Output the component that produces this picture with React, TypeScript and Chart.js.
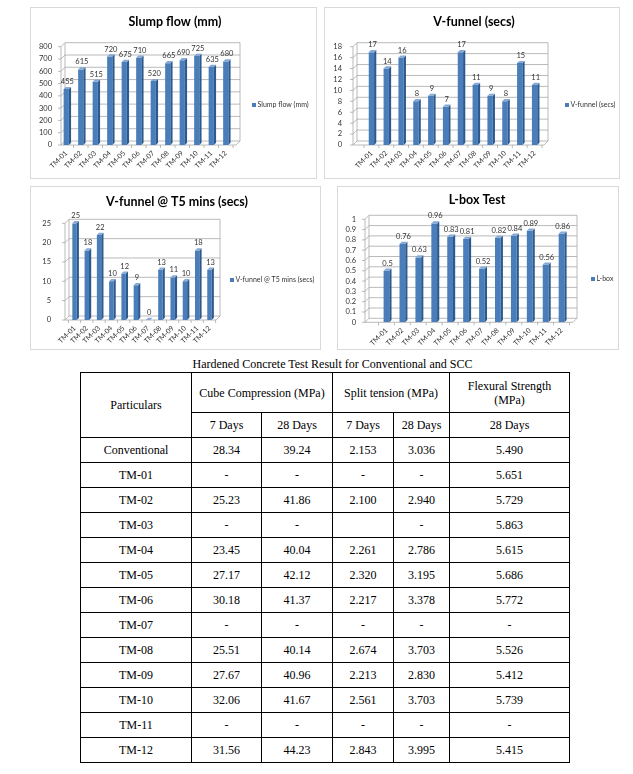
import React, { useEffect, useRef } from "react";
import { Chart, registerables } from "chart.js";

Chart.register(...registerables);

// ---------------- data ----------------
const categories = ["TM-01", "TM-02", "TM-03", "TM-04", "TM-05", "TM-06", "TM-07", "TM-08", "TM-09", "TM-10", "TM-11", "TM-12"];
const slumpFlow = [455, 615, 515, 720, 675, 710, 520, 665, 690, 725, 635, 680];
const vFunnel = [17, 14, 16, 8, 9, 7, 17, 11, 9, 8, 15, 11];
const vFunnelT5 = [25, 18, 22, 10, 12, 9, 0, 13, 11, 10, 18, 13];
const lBox = [0.5, 0.76, 0.63, 0.96, 0.83, 0.81, 0.52, 0.82, 0.84, 0.89, 0.56, 0.86];

const slumpTicks = [0, 100, 200, 300, 400, 500, 600, 700, 800];
const vFunnelTicks = [0, 2, 4, 6, 8, 10, 12, 14, 16, 18];
const t5Ticks = [0, 5, 10, 15, 20, 25];
const lBoxTicks = [0, 0.1, 0.2, 0.3, 0.4, 0.5, 0.6, 0.7, 0.8, 0.9, 1];

const tableTitle = "Hardened Concrete Test Result for Conventional and SCC";
const particulars = ["Conventional", "TM-01", "TM-02", "TM-03", "TM-04", "TM-05", "TM-06", "TM-07", "TM-08", "TM-09", "TM-10", "TM-11", "TM-12"];
const cube7 = ["28.34", "-", "25.23", "-", "23.45", "27.17", "30.18", "-", "25.51", "27.67", "32.06", "-", "31.56"];
const cube28 = ["39.24", "-", "41.86", "-", "40.04", "42.12", "41.37", "-", "40.14", "40.96", "41.67", "-", "44.23"];
const split7 = ["2.153", "-", "2.100", "", "2.261", "2.320", "2.217", "-", "2.674", "2.213", "2.561", "-", "2.843"];
const split28 = ["3.036", "-", "2.940", "-", "2.786", "3.195", "3.378", "-", "3.703", "2.830", "3.703", "-", "3.995"];
const flex28 = ["5.490", "5.651", "5.729", "5.863", "5.615", "5.686", "5.772", "-", "5.526", "5.412", "5.739", "-", "5.415"];

// ---------------- layout ----------------
type Panel = {
  title: string;
  legend: string;
  values: number[];
  ticks: number[];
  box: { x: number; y: number; w: number; h: number };
  area: { l: number; r: number; t: number; b: number };
  wallX: number;
  floorR: number;
  labelRight: number;
  titlePos: { x: number; y: number };
  legendPos: { x: number; y: number };
};

const panels: Panel[] = [
  {
    title: "Slump flow (mm)", legend: "Slump flow (mm)", values: slumpFlow, ticks: slumpTicks,
    box: { x: 30, y: 7, w: 287, h: 172 }, area: { l: 59, r: 233, t: 46.7, b: 145 },
    wallX: 61, floorR: 236, labelRight: 52, titlePos: { x: 175, y: 21.5 }, legendPos: { x: 252, y: 105 },
  },
  {
    title: "V-funnel (secs)", legend: "V-funnel (secs)", values: vFunnel, ticks: vFunnelTicks,
    box: { x: 324, y: 7, w: 296, h: 172 }, area: { l: 364, r: 542, t: 46.7, b: 145 },
    wallX: 353, floorR: 544, labelRight: 342, titlePos: { x: 474, y: 22 }, legendPos: { x: 565, y: 105 },
  },
  {
    title: "V-funnel @ T5 mins (secs)", legend: "V-funnel @ T5 mins (secs)", values: vFunnelT5, ticks: t5Ticks,
    box: { x: 30, y: 186, w: 291, h: 164 }, area: { l: 68.4, r: 215.6, t: 223.3, b: 320 },
    wallX: 65, floorR: 216, labelRight: 51, titlePos: { x: 177, y: 202 }, legendPos: { x: 230, y: 280 },
  },
  {
    title: "L-box Test", legend: "L-box", values: lBox, ticks: lBoxTicks,
    box: { x: 337, y: 186, w: 282, h: 164 }, area: { l: 378.5, r: 569.5, t: 219.3, b: 322.3 },
    wallX: 365, floorR: 573, labelRight: 356, titlePos: { x: 477, y: 200 }, legendPos: { x: 591, y: 279 },
  },
];

const FONT = "Lato, 'Open Sans', sans-serif";
const BAR_FRONT = "#4a7ebb";
const BAR_SIDE = "#2d5a8e";
const BAR_TOP = "#86a9d6";
const TEXT = "#333333";

function makeDecor(p: Panel) {
  const ox = p.box.x;
  const oy = p.box.y;
  return {
    id: "excel3d",
    beforeDatasetsDraw(chart: any) {
      const ctx = chart.ctx as CanvasRenderingContext2D;
      const ys = chart.scales.y;
      const area = chart.chartArea;
      const xL = p.wallX - ox;
      const xR = p.floorR - ox;
      const dx = 4;
      const dy = 4;
      const bottom = area.bottom;
      const top = ys.getPixelForValue(p.ticks[p.ticks.length - 1]);
      ctx.save();
      ctx.strokeStyle = "#a8a8a8";
      ctx.lineWidth = 0.8;
      ys.ticks.forEach((t: any) => {
        const py = ys.getPixelForValue(t.value);
        ctx.beginPath();
        ctx.moveTo(xL - 3, py);
        ctx.lineTo(xL, py);
        ctx.lineTo(xL + dx, py - dy);
        ctx.lineTo(xR + dx, py - dy);
        ctx.stroke();
      });
      ctx.beginPath();
      ctx.moveTo(xL, top);
      ctx.lineTo(xL, bottom);
      ctx.moveTo(xL + dx, top - dy);
      ctx.lineTo(xL + dx, bottom - dy);
      ctx.moveTo(xR + dx, top - dy);
      ctx.lineTo(xR + dx, bottom - dy);
      ctx.moveTo(xL, bottom);
      ctx.lineTo(xR, bottom);
      ctx.lineTo(xR + dx, bottom - dy);
      ctx.stroke();
      const xs = chart.scales.x;
      const n = categories.length;
      const step = (area.right - area.left) / n;
      for (let i = 0; i <= n; i++) {
        const px = xs.left + i * step;
        if (px < xL || px > xR) continue;
        ctx.beginPath();
        ctx.moveTo(px, bottom);
        ctx.lineTo(px, bottom + 3);
        ctx.stroke();
      }
      ctx.restore();
    },
    afterDatasetsDraw(chart: any) {
      const ctx = chart.ctx as CanvasRenderingContext2D;
      const meta = chart.getDatasetMeta(0);
      const d = 2.2;
      ctx.save();
      meta.data.forEach((bar: any, i: number) => {
        const { x, y, base, width } = bar.getProps(["x", "y", "base", "width"], true);
        const l = x - width / 2;
        const r = x + width / 2;
        ctx.fillStyle = BAR_SIDE;
        ctx.beginPath();
        ctx.moveTo(r, y);
        ctx.lineTo(r + d, y - d);
        ctx.lineTo(r + d, base - d);
        ctx.lineTo(r, base);
        ctx.closePath();
        ctx.fill();
        ctx.fillStyle = BAR_TOP;
        ctx.beginPath();
        ctx.moveTo(l, y);
        ctx.lineTo(r, y);
        ctx.lineTo(r + d, y - d);
        ctx.lineTo(l + d, y - d);
        ctx.closePath();
        ctx.fill();
        ctx.fillStyle = TEXT;
        ctx.font = `7.5px ${FONT}`;
        ctx.textAlign = "center";
        ctx.textBaseline = "bottom";
        ctx.fillText(String(p.values[i]), x + d / 2, y - d - 1.5);
      });
      // title
      ctx.fillStyle = "#000000";
      ctx.font = `bold 12.5px ${FONT}`;
      ctx.textAlign = "center";
      ctx.textBaseline = "middle";
      ctx.fillText(p.title, p.titlePos.x - ox, p.titlePos.y - oy);
      // legend
      const lx = p.legendPos.x - ox;
      const ly = p.legendPos.y - oy;
      ctx.fillStyle = BAR_FRONT;
      ctx.fillRect(lx, ly - 2, 4, 4);
      ctx.fillStyle = TEXT;
      ctx.font = `7px ${FONT}`;
      ctx.textAlign = "left";
      ctx.textBaseline = "middle";
      ctx.fillText(p.legend, lx + 5.5, ly);
      ctx.restore();
    },
  };
}

function ChartPanel({ p }: { p: Panel }) {
  const ref = useRef<HTMLCanvasElement | null>(null);
  useEffect(() => {
    if (!ref.current) return;
    const maxV = p.ticks[p.ticks.length - 1];
    const chart = new Chart(ref.current, {
      type: "bar",
      data: {
        labels: categories,
        datasets: [
          {
            label: p.legend,
            data: p.values,
            backgroundColor: BAR_FRONT,
            borderWidth: 0,
            barPercentage: 0.36,
            categoryPercentage: 1,
          },
        ],
      },
      options: {
        animation: false,
        responsive: false,
        maintainAspectRatio: false,
        devicePixelRatio: 1,
        layout: {
          padding: {
            top: p.area.t - p.box.y,
            right: p.box.x + p.box.w - p.area.r,
            left: 0,
            bottom: 0,
          },
        },
        plugins: {
          legend: { display: false },
          title: { display: false },
          tooltip: { enabled: false },
        },
        scales: {
          x: {
            grid: { display: false, drawTicks: false },
            border: { display: false },
            ticks: {
              minRotation: 45,
              maxRotation: 45,
              autoSkip: false,
              padding: 4,
              color: TEXT,
              font: { size: 7, family: FONT },
            },
            afterFit: (s: any) => {
              s.height = p.box.y + p.box.h - p.area.b;
            },
          },
          y: {
            min: 0,
            max: maxV,
            grid: { display: false, drawTicks: false },
            border: { display: false },
            afterBuildTicks: (s: any) => {
              s.ticks = p.ticks.map((v) => ({ value: v }));
            },
            ticks: {
              autoSkip: false,
              padding: p.area.l - p.labelRight,
              color: TEXT,
              font: { size: 7.5, family: FONT },
              callback: (v: any) => String(v),
            },
            afterFit: (s: any) => {
              s.width = p.area.l - p.box.x;
            },
          },
        },
      },
      plugins: [makeDecor(p)],
    } as any);
    return () => chart.destroy();
  }, [p]);
  return (
    <div
      style={{
        position: "absolute",
        left: p.box.x,
        top: p.box.y,
        width: p.box.w,
        height: p.box.h,
        boxShadow: "inset 0 0 0 1px #d9d9d9",
      }}
    >
      <canvas
        ref={ref}
        width={p.box.w}
        height={p.box.h}
        style={{ display: "block", width: p.box.w, height: p.box.h }}
      />
    </div>
  );
}

const SERIF = '"Liberation Serif", "Times New Roman", serif';

const cellStyle: React.CSSProperties = {
  border: "1px solid #000",
  padding: 0,
  textAlign: "center",
  verticalAlign: "middle",
  fontFamily: SERIF,
  fontSize: 12,
  fontWeight: 400,
  lineHeight: "14px",
  color: "#000",
};

export default function App() {
  return (
    <div style={{ position: "absolute", left: 0, top: 0, width: 633, height: 774, background: "#fff", overflow: "hidden" }}>
      {panels.map((p, i) => (
        <ChartPanel key={i} p={p} />
      ))}
      <div
        style={{
          position: "absolute",
          left: 88,
          top: 357,
          width: 489,
          textAlign: "center",
          fontFamily: SERIF,
          fontSize: 12,
          lineHeight: "14px",
          color: "#000",
        }}
      >
        {tableTitle}
      </div>
      <table
        style={{
          position: "absolute",
          left: 80,
          top: 372,
          width: 489,
          borderCollapse: "collapse",
          tableLayout: "fixed",
          fontFamily: SERIF,
          fontSize: 12,
          color: "#000",
        }}
      >
        <colgroup>
          <col style={{ width: 111 }} />
          <col style={{ width: 70 }} />
          <col style={{ width: 71 }} />
          <col style={{ width: 61 }} />
          <col style={{ width: 56 }} />
          <col style={{ width: 120 }} />
        </colgroup>
        <tbody>
          <tr style={{ height: 40 }}>
            <td style={cellStyle} rowSpan={2}>Particulars</td>
            <td style={cellStyle} colSpan={2}>Cube Compression (MPa)</td>
            <td style={cellStyle} colSpan={2}>Split tension (MPa)</td>
            <td style={cellStyle}>
              Flexural Strength
              <br />
              (MPa)
            </td>
          </tr>
          <tr style={{ height: 25 }}>
            <td style={cellStyle}>7 Days</td>
            <td style={cellStyle}>28 Days</td>
            <td style={cellStyle}>7 Days</td>
            <td style={cellStyle}>28 Days</td>
            <td style={cellStyle}>28 Days</td>
          </tr>
          {particulars.map((name, i) => (
            <tr key={name} style={{ height: 25 }}>
              <td style={cellStyle}>{name}</td>
              <td style={cellStyle}>{cube7[i]}</td>
              <td style={cellStyle}>{cube28[i]}</td>
              <td style={cellStyle}>{split7[i]}</td>
              <td style={cellStyle}>{split28[i]}</td>
              <td style={cellStyle}>{flex28[i]}</td>
            </tr>
          ))}
        </tbody>
      </table>
    </div>
  );
}
